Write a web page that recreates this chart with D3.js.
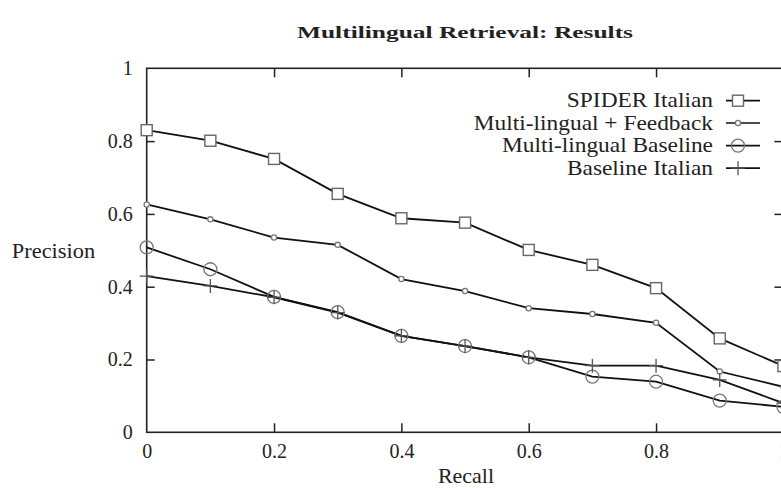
<!DOCTYPE html>
<html>
<head>
<meta charset="utf-8">
<script src="https://cdn.jsdelivr.net/npm/d3@7"></script>
<style>
  body { margin: 0; background: #fff; }
  svg { display: block; }
  text { font-family: "Liberation Serif", "Times New Roman", serif; fill: #222; }
</style>
</head>
<body>
<div id="chart"></div>
<script>
// recall points shared by all runs
const recall = [0, 0.1, 0.2, 0.3, 0.4, 0.5, 0.6, 0.7, 0.8, 0.9, 1.0];

// precision values
const spiderItalian      = [0.830, 0.801, 0.751, 0.655, 0.588, 0.576, 0.501, 0.460, 0.396, 0.258, 0.182];
const multiFeedback      = [0.626, 0.585, 0.535, 0.515, 0.421, 0.388, 0.341, 0.325, 0.301, 0.167, 0.125];
const multiBaseline      = [0.508, 0.448, 0.372, 0.330, 0.265, 0.237, 0.206, 0.153, 0.139, 0.087, 0.070];
const baselineItalian    = [0.429, 0.402, 0.371, 0.329, 0.265, 0.237, 0.206, 0.183, 0.183, 0.144, 0.080];

const seriesNames = ["SPIDER Italian", "Multi-lingual + Feedback", "Multi-lingual Baseline", "Baseline Italian"];
const seriesValues = [spiderItalian, multiFeedback, multiBaseline, baselineItalian];
const markerTypes = ["square", "smallCircle", "circle", "plus"];

const xTicks = [0, 0.2, 0.4, 0.6, 0.8, 1];
const yTicks = [0, 0.2, 0.4, 0.6, 0.8, 1];

const width = 781, height = 488;
const plotLeft = 146.7, plotRight = 783.4, plotTop = 68.3, plotBottom = 432.3;

const svg = d3.select("#chart").append("svg")
    .attr("width", width)
    .attr("height", height);

const x = d3.scaleLinear().domain([0, 1]).range([plotLeft, plotRight]);
const y = d3.scaleLinear().domain([0, 1]).range([plotBottom, plotTop]);

const fmt = d => d === 0 ? "0" : d === 1 ? "1" : d3.format(".1f")(d);

// axes, ticks point inward
const gx = svg.append("g")
    .attr("transform", `translate(0,${plotBottom})`)
    .call(d3.axisBottom(x).tickValues(xTicks).tickFormat(fmt).tickSize(-9).tickSizeOuter(0).tickPadding(12));
const gy = svg.append("g")
    .attr("transform", `translate(${plotLeft},0)`)
    .call(d3.axisLeft(y).tickValues(yTicks).tickFormat(fmt).tickSize(-8).tickSizeOuter(0).tickPadding(14));
const gt = svg.append("g")
    .attr("transform", `translate(0,${plotTop})`)
    .call(d3.axisTop(x).tickValues(xTicks).tickFormat("").tickSize(-9).tickSizeOuter(0));
const gr = svg.append("g")
    .attr("transform", `translate(${plotRight},0)`)
    .call(d3.axisRight(y).tickValues(yTicks).tickFormat("").tickSize(-9).tickSizeOuter(0));

[gx, gy, gt, gr].forEach(g => {
    g.select(".domain").remove();
    g.selectAll(".tick line").attr("stroke", "#222").attr("stroke-width", 1.5);
    g.selectAll(".tick text")
        .attr("font-family", "Liberation Serif, serif")
        .attr("font-size", 20)
        .attr("fill", "#222");
});
// drop end ticks that sit on the frame
[gx, gy, gt, gr].forEach(g => g.selectAll(".tick line").filter(d => d === 0 || d === 1).remove());

svg.append("rect")
    .attr("x", plotLeft).attr("y", plotTop)
    .attr("width", plotRight - plotLeft).attr("height", plotBottom - plotTop)
    .attr("fill", "none").attr("stroke", "#222").attr("stroke-width", 1.6);

// titles (stretched a little to match the wider TeX font)
svg.append("text")
    .attr("x", 465).attr("y", 38)
    .attr("text-anchor", "middle")
    .attr("font-size", 17).attr("font-weight", "bold")
    .attr("textLength", 336).attr("lengthAdjust", "spacingAndGlyphs")
    .text("Multilingual Retrieval: Results");
svg.append("text")
    .attr("transform", "translate(53.5,258) scale(1.12,1)")
    .attr("text-anchor", "middle").attr("font-size", 20)
    .text("Precision");
svg.append("text")
    .attr("transform", "translate(466,483) scale(1.1,1)")
    .attr("text-anchor", "middle").attr("font-size", 20)
    .text("Recall");

// marker drawing
function drawMarker(g, type, cx, cy) {
    if (type === "square") {
        g.append("rect").attr("x", cx - 5.5).attr("y", cy - 5.5).attr("width", 11).attr("height", 11)
            .attr("fill", "#fff").attr("stroke", "#666").attr("stroke-width", 1.4);
    } else if (type === "smallCircle") {
        g.append("circle").attr("cx", cx).attr("cy", cy).attr("r", 2.6)
            .attr("fill", "#fff").attr("stroke", "#777").attr("stroke-width", 1.3);
    } else if (type === "circle") {
        g.append("circle").attr("cx", cx).attr("cy", cy).attr("r", 6.5)
            .attr("fill", "none").attr("stroke", "#777").attr("stroke-width", 1.3);
    } else {
        g.append("path").attr("d", `M${cx - 7},${cy}H${cx + 7}M${cx},${cy - 7}V${cy + 7}`)
            .attr("fill", "none").attr("stroke", "#555").attr("stroke-width", 1.3);
    }
}

const line = d3.line().x(d => x(d[0])).y(d => y(d[1]));

seriesValues.forEach(vals => {
    const pts = recall.map((r, k) => [r, vals[k]]);
    svg.append("path")
        .datum(pts)
        .attr("d", line)
        .attr("fill", "none")
        .attr("stroke", "#111")
        .attr("stroke-width", 1.8);
});
seriesValues.forEach((vals, i) => {
    const g = svg.append("g");
    recall.forEach((r, k) => drawMarker(g, markerTypes[i], x(r), y(vals[k])));
});

// legend
const legendY = [100.7, 123, 145.6, 168.2];
seriesNames.forEach((name, i) => {
    const ly = legendY[i];
    svg.append("text")
        .attr("transform", `translate(713,${ly + 6.5}) scale(1.17,1)`)
        .attr("text-anchor", "end").attr("font-size", 20)
        .text(name);
    svg.append("line")
        .attr("x1", 726).attr("x2", 760).attr("y1", ly).attr("y2", ly)
        .attr("stroke", "#111").attr("stroke-width", 1.7);
    drawMarker(svg.append("g"), markerTypes[i], 738, ly);
});
</script>
</body>
</html>
